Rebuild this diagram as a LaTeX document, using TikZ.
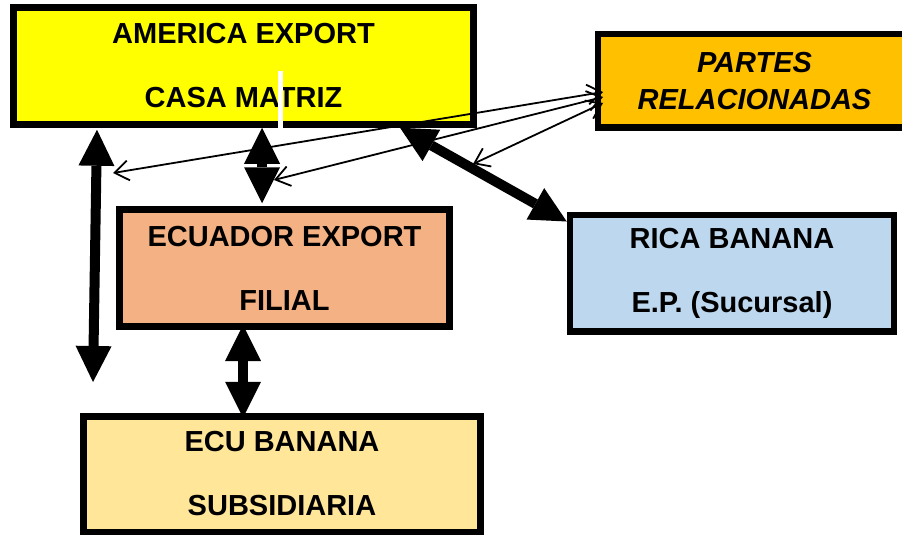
\documentclass[tikz,border=0pt]{standalone}
\usepackage{fontspec}
\setmainfont{Liberation Sans}
\usetikzlibrary{arrows.meta,calc}
\definecolor{cYel}{HTML}{FFFF00}
\definecolor{cOra}{HTML}{FFC000}
\definecolor{cSal}{HTML}{F4B183}
\definecolor{cBlu}{HTML}{BDD7EE}
\definecolor{cLYe}{HTML}{FFE699}
\begin{document}
\begin{tikzpicture}[x=1pt,y=-1pt,
  box/.style={draw=black, line width=6.5pt, rectangle, inner sep=0pt, align=center,
    font=\bfseries\fontsize{29pt}{64pt}\selectfont},
  bigarrow/.style={line width=10pt,
    {Triangle[width=36pt,length=36pt,line width=0pt]}-{Triangle[width=36pt,length=36pt,line width=0pt]}},
  thinarrow/.style={line width=1.8pt,
    {Straight Barb[length=14pt,width=20pt]}-{Straight Barb[length=14pt,width=20pt]}}]
\useasboundingbox (0,0) rectangle (902,535);

\node[box, fill=cYel, minimum width=460pt, minimum height=117pt] (amer) at (243.5,66)
  {AMERICA EXPORT\\CASA MATRIZ};
\node[box, fill=cOra, minimum width=313pt, minimum height=93.5pt,
  font=\bfseries\itshape\fontsize{29pt}{37pt}\selectfont] (partes) at (754.5,80.75)
  {PARTES\\RELACIONADAS};
\node[box, fill=cSal, minimum width=330pt, minimum height=117pt] (ecuad) at (284.5,268)
  {ECUADOR EXPORT\\FILIAL};
\node[box, fill=cBlu, minimum width=324pt, minimum height=116.5pt] (rica) at (732,273)
  {RICA BANANA\\E.P. (Sucursal)};
\node[box, fill=cLYe, minimum width=397pt, minimum height=115.5pt] (ecub) at (282,474)
  {ECU BANANA\\SUBSIDIARIA};

\draw[white, line width=5pt] ($(amer.south)+(36.5,-57)$) -- ($(amer.south)+(36.5,2)$);

\coordinate (lb) at (93,382);
\coordinate (t1) at (113,173);
\coordinate (t2) at (274,180);
\coordinate (t3) at (473,164);

\draw[bigarrow] ($(amer.south west)+(86.75,2)$) -- (lb);
\draw[bigarrow] ($(amer.south)+(18.5,0)$) -- ($(ecuad.north)+(-22.5,-3)$);
\draw[bigarrow] ($(ecuad.south)+(-41.5,-4.75)$) -- ($(ecub.north)+(-39,4.75)$);
\draw[bigarrow] ($(amer.south east)+(-76.75,0)$) -- ($(rica.north west)+(0,10)$);

\draw[thinarrow] ($(partes.west)+(8.25,11.25)$) -- (t1);
\draw[thinarrow] ($(partes.west)+(8.25,16.25)$) -- (t2);
\draw[thinarrow] ($(partes.west)+(8.25,22.25)$) -- (t3);
\end{tikzpicture}
\end{document}
